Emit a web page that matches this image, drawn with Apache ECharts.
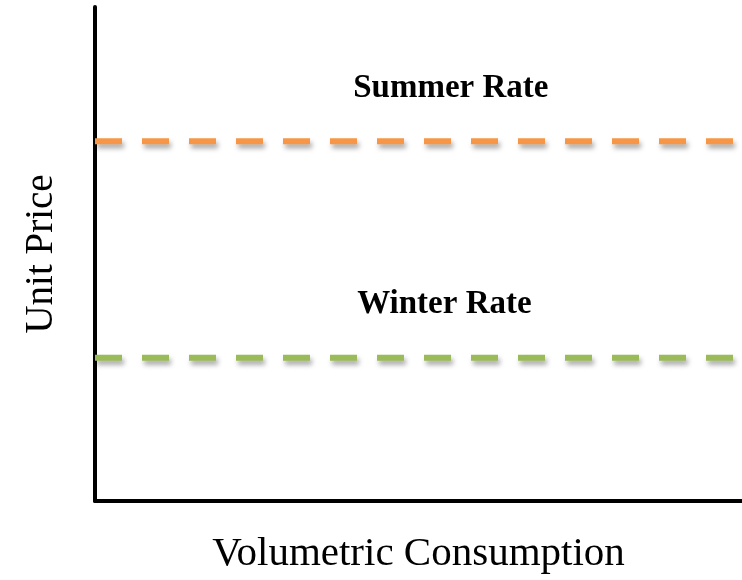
<!DOCTYPE html>
<html>
<head>
<meta charset="utf-8">
<script src="https://cdn.jsdelivr.net/npm/echarts@6/dist/echarts.min.js"></script>
<style>
  html, body { margin: 0; padding: 0; background: #fff; }
  #chart { width: 742px; height: 580px; }
</style>
</head>
<body>
<div id="chart"></div>
<script>
// Seasonal flat-rate tariffs: unit price stays constant over consumption
const rateNames = ['Summer Rate', 'Winter Rate'];
const rateValues = [72.8, 29];
const rateColors = ['#F79646', '#9BBB59'];
const consumptionRange = [0, 100];
const labelAt = [55, 54];

const FONT = "'Liberation Serif', 'Times New Roman', serif";

const chart = echarts.init(document.getElementById('chart'));

const series = rateNames.map((name, i) => ({
  name: name,
  type: 'line',
  symbol: 'none',
  silent: true,
  data: [[consumptionRange[0], rateValues[i]], [consumptionRange[1], rateValues[i]]],
  lineStyle: {
    color: rateColors[i],
    width: 6,
    type: [27, 20],
    cap: 'butt',
    shadowColor: 'rgba(0,0,0,0.35)',
    shadowBlur: 5,
    shadowOffsetX: 2,
    shadowOffsetY: 4
  },
  markPoint: {
    symbol: 'rect',
    symbolSize: 1,
    itemStyle: { color: 'rgba(0,0,0,0)' },
    label: {
      show: true,
      formatter: name,
      position: 'inside',
      offset: [0, -53],
      color: '#000',
      fontFamily: FONT,
      fontWeight: 'bold',
      fontSize: 33
    },
    data: [{ coord: [labelAt[i], rateValues[i]] }]
  }
}));

chart.setOption({
  animation: false,
  grid: { left: 95, right: 0, top: 7, bottom: 76, containLabel: false },
  xAxis: {
    type: 'value',
    min: consumptionRange[0],
    max: consumptionRange[1],
    name: 'Volumetric Consumption',
    nameLocation: 'middle',
    nameGap: 33,
    nameTextStyle: { fontFamily: FONT, fontSize: 41, color: '#000' },
    axisLine: { show: true, lineStyle: { color: '#000', width: 4 } },
    axisTick: { show: false },
    axisLabel: { show: false },
    splitLine: { show: false }
  },
  yAxis: {
    type: 'value',
    min: 0,
    max: 100,
    name: 'Unit Price',
    nameLocation: 'middle',
    nameRotate: 90,
    nameGap: 34,
    nameTextStyle: { fontFamily: FONT, fontSize: 39, color: '#000' },
    axisLine: { show: true, lineStyle: { color: '#000', width: 4 } },
    axisTick: { show: false },
    axisLabel: { show: false },
    splitLine: { show: false }
  },
  series: series
});
</script>
</body>
</html>
